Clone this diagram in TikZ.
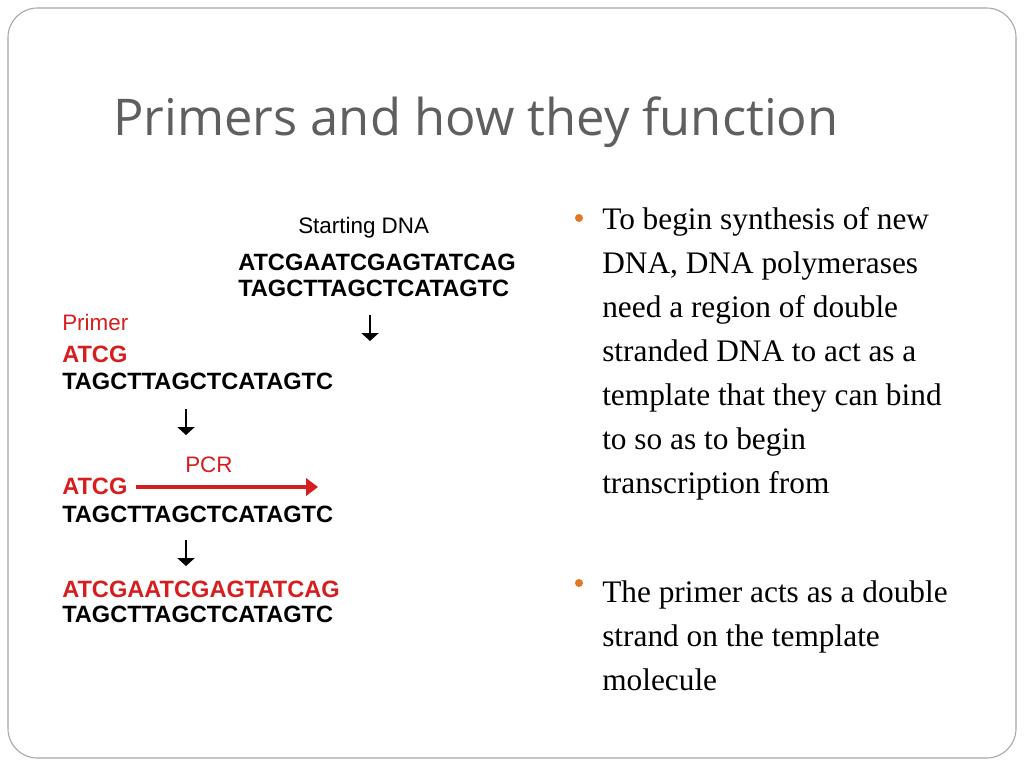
\documentclass[tikz,border=0pt]{standalone}
\usepackage{fontspec}
\setmainfont{Liberation Serif}
\newfontfamily\arialf{Liberation Sans}
\newfontfamily\titlef{Open Sans}
\usetikzlibrary{arrows.meta}
\definecolor{dred}{RGB}{215,30,30}
\definecolor{tgray}{RGB}{95,95,95}
\definecolor{borange}{RGB}{225,120,40}
\tikzset{
 seq/.style={anchor=base west,inner sep=0pt,font=\arialf\bfseries\fontsize{17.7}{20}\selectfont},
 lbl/.style={anchor=base west,inner sep=0pt,font=\arialf\fontsize{16.8}{19}\selectfont},
 darr/.style={-{Triangle[width=13pt,length=6pt]},line width=0.9pt},
 btxt/.style={anchor=north west,inner sep=0pt,align=left,font=\fontsize{23.5}{33}\selectfont},
 bdot/.style={circle,fill=borange,inner sep=0pt,minimum size=6pt}
}
\begin{document}
\begin{tikzpicture}[x=0.75pt,y=-0.75pt]
\useasboundingbox (0,0) rectangle (1024,768);
\draw[gray!70,line width=0.8pt,rounded corners=22pt] (8,8) rectangle (1016,758);
\node[anchor=base west,inner sep=0pt,text=tgray,font=\titlef\fontsize{38}{44}\selectfont] (title) at (113,135) {Primers and how they function};
% diagram
\node[lbl] (start) at (298,233) {Starting DNA};
\node[seq] (s1) at (238,270) {ATCGAATCGAGTATCAG};
\node[seq] (s2) at (238,296) {TAGCTTAGCTCATAGTC};
\coordinate (a1s) at (370,315); \coordinate (a1e) at (370,341);
\draw[darr] (a1s) -- (a1e);
\node[lbl,text=dred] (primer) at (62,330) {Primer};
\node[seq,text=dred] (p1) at (62,362) {ATCG};
\node[seq] (p2) at (62,389) {TAGCTTAGCTCATAGTC};
\coordinate (a2s) at (186,409); \coordinate (a2e) at (186,435);
\draw[darr] (a2s) -- (a2e);
\node[lbl,text=dred] (pcr) at (185,472) {PCR};
\node[seq,text=dred] (q1) at (62,494) {ATCG};
\coordinate (ps) at (136,487);
\coordinate (pe) at (318,487);
\draw[dred,line width=2.4pt,-{Triangle[width=13pt,length=9pt]}] (ps) -- (pe);
\node[seq] (q2) at (62,522) {TAGCTTAGCTCATAGTC};
\coordinate (a3s) at (186,540); \coordinate (a3e) at (186,566);
\draw[darr] (a3s) -- (a3e);
\node[seq,text=dred] (r1) at (62,597) {ATCGAATCGAGTATCAG};
\node[seq] (r2) at (62,622) {TAGCTTAGCTCATAGTC};
% bullets
\node[bdot] (b1) at (579,218) {};
\node[btxt] (t1) at (602,207) {To begin synthesis of new\\DNA, DNA polymerases\\need a region of double\\stranded DNA to act as a\\template that they can bind\\to so as to begin\\transcription from};
\node[bdot] (b2) at (579,583) {};
\node[btxt] (t2) at (602,580) {The primer acts as a double\\strand on the template\\molecule};
\end{tikzpicture}
\end{document}
